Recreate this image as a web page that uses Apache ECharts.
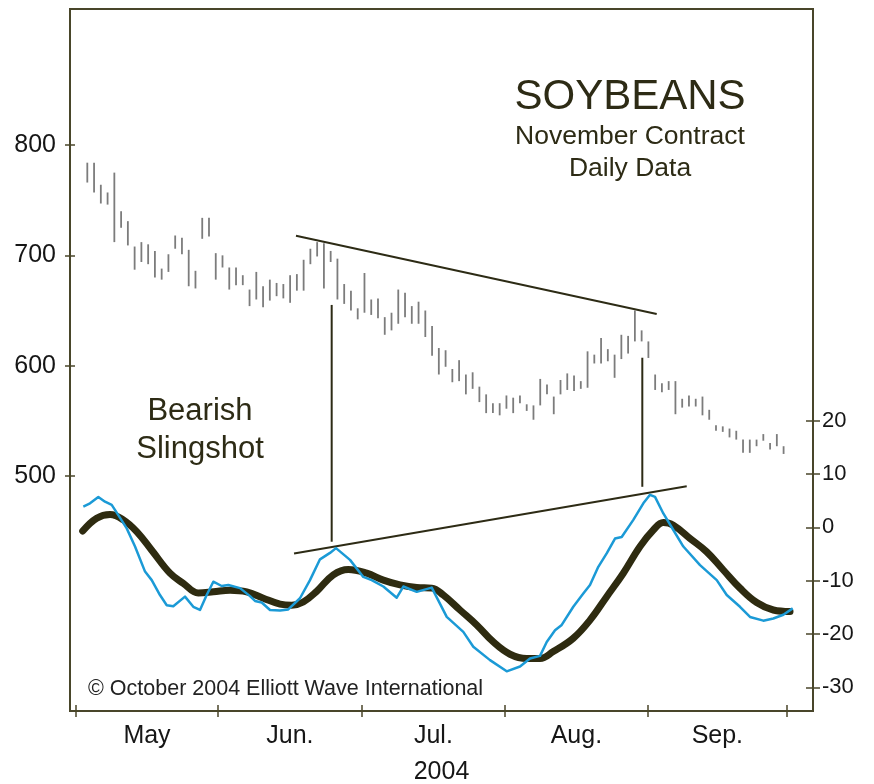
<!DOCTYPE html>
<html>
<head>
<meta charset="utf-8">
<script src="https://cdn.jsdelivr.net/npm/echarts@6/dist/echarts.min.js"></script>
<style>
html, body { margin: 0; padding: 0; background: #fff; }
#main { width: 874px; height: 784px; }
</style>
</head>
<body>
<div id="main"></div>
<script>
// daily high / low, one entry per trading day (index 0 = first bar)
var highs = [784, 784, 764, 757, 775, 740, 731, 708, 712, 710, 704, 688, 701, 718, 716, 705, 686, 734, 734, 702,
    700, 689, 689, 682, 669, 685, 672, 678, 675, 674, 682, 683, 696, 706, 712, 711, 704, 697, 674, 668,
    652, 684, 660, 661, 644, 648, 669, 666, 654, 658, 650, 636, 616, 614, 597, 605, 592, 594, 581, 574,
    566, 566, 573, 571, 573, 565, 564, 588, 583, 572, 587, 593, 591, 586, 613, 610, 625, 615, 610, 628,
    627, 650, 632, 622, 592, 584, 586, 586, 570, 573, 570, 572, 560, 546, 545, 543, 541, 533, 533, 533,
    538, 530, 538, 527];
var lows = [766, 757, 747, 746, 712, 725, 709, 687, 694, 692, 680, 678, 685, 706, 701, 672, 670, 715, 717, 678,
    689, 669, 673, 673, 654, 660, 653, 659, 663, 661, 657, 668, 668, 692, 699, 670, 694, 660, 656, 650,
    642, 648, 646, 643, 628, 632, 638, 644, 638, 638, 626, 609, 592, 599, 585, 586, 574, 579, 567, 557,
    557, 555, 561, 557, 566, 559, 551, 564, 574, 556, 574, 578, 577, 579, 580, 602, 602, 604, 589, 606,
    611, 622, 622, 607, 578, 576, 578, 556, 562, 563, 563, 555, 551, 541, 540, 535, 533, 521, 521, 527,
    532, 524, 527, 520];

// oscillator, smoothed (thick) and raw (blue): day position and value
var smoothDay = [-0.68, 1.39, 3.36, 5.33, 7.31, 9.53, 12.23, 14.2, 16.42, 18.64, 21.11, 23.58, 26.04, 28.51, 30.24,
    31.95, 33.93, 36.39, 38.61, 41.33, 43.79, 46.26, 48.73, 50.95, 52.66, 55.13, 57.6, 60.06, 62.53, 65.0,
    66.97, 68.93, 71.89, 74.36, 76.83, 79.29, 81.76, 83.73, 85.21, 86.69, 89.16, 91.63, 94.08, 96.55, 99.02,
    101.48, 103.95];
var smoothVal = [-0.7, 1.7, 2.4, 1.4, -0.8, -4.3, -8.6, -10.5, -12.3, -12.1, -11.8, -12.1, -13.3, -14.4, -14.6,
    -14.0, -12.0, -8.9, -7.9, -8.6, -9.9, -10.8, -11.3, -11.4, -12.7, -15.5, -18.3, -21.5, -23.8, -24.6,
    -24.6, -23.3, -20.8, -17.4, -13.0, -8.6, -3.6, -0.5, 0.9, 0.4, -2.1, -4.6, -8.0, -11.4, -14.1,
    -15.5, -15.8];
var rawDay = [-0.59, 0.4, 1.63, 2.62, 3.61, 4.59, 5.83, 7.06, 8.54, 9.53, 10.75, 11.75, 12.72, 14.45, 15.68,
    16.67, 17.66, 18.64, 19.88, 20.86, 22.59, 24.07, 24.81, 25.8, 27.03, 28.51, 29.73, 31.46, 32.94, 34.42,
    35.9, 36.79, 38.86, 40.83, 42.07, 43.79, 45.77, 46.75, 48.73, 50.95, 53.17, 55.62, 57.1, 59.57, 62.04,
    64.01, 65.49, 66.97, 67.96, 69.19, 70.18, 71.89, 73.37, 74.36, 75.59, 76.83, 78.06, 79.05, 80.77, 82.25,
    83.24, 83.98, 85.21, 86.69, 88.17, 90.64, 93.11, 94.59, 96.55, 98.03, 100.0, 101.48, 102.96, 104.35];
var rawVal = [3.9, 4.5, 5.7, 4.8, 4.2, 2.3, -0.2, -3.6, -8.3, -9.9, -12.7, -14.6, -14.8, -13.0, -14.9,
    -15.5, -12.7, -10.2, -11.0, -10.8, -11.4, -12.9, -13.8, -14.1, -15.5, -15.6, -15.4, -13.3, -9.9, -6.0,
    -4.8, -3.9, -6.1, -9.3, -9.9, -11.1, -13.2, -11.1, -12.1, -11.3, -16.8, -19.6, -22.4, -24.9, -27.0,
    -26.1, -24.6, -24.1, -21.5, -19.3, -18.3, -14.9, -12.4, -10.8, -7.4, -4.9, -2.1, -1.8, 1.4, 4.5,
    6.1, 5.7, 2.6, -0.5, -3.6, -7.1, -9.9, -12.7, -14.9, -16.8, -17.5, -17.1, -16.4, -15.2];

// hand drawn annotation lines [day, value]
var priceTrend = [[30.87, 717.8], [84.23, 646.8]];
var oscTrend = [[30.58, -4.9], [88.67, 7.7]];
var drop1 = [[36.15, 41.7], [36.15, -2.7]];
var drop2 = [[82.1, 31.8], [82.1, 7.6]];

var monthEdges = [-1.67, 19.33, 40.6, 61.8, 82.9, 103.5];
var monthNames = ['May', 'Jun.', 'Jul.', 'Aug.', 'Sep.'];
var priceTicks = [500, 600, 700, 800];
var oscTicks = [-30, -20, -10, 0, 10, 20];

var monthMid = [];
for (var m = 0; m < monthNames.length; m++) {
    monthMid.push((monthEdges[m] + monthEdges[m + 1]) / 2);
}
var barData = highs.map(function (h, i) { return [i, lows[i], h]; });
var smoothData = smoothDay.map(function (d, i) { return [d, smoothVal[i]]; });
var rawData = rawDay.map(function (d, i) { return [d, rawVal[i]]; });

var axisColor = '#49462a';
var inkColor = '#2d2b15';
var labelColor = '#161616';
var font = '"Liberation Sans", Arial, sans-serif';
var xMin = -2.56, xMax = 107.35;
var pMin = 287, pMax = 923.3;
var oMin = -34.44, oMax = 97.19;

function tickAxis(base, inside, len) {
    base.axisTick = {show: true, inside: inside, length: len, customValues: base._ticks,
        lineStyle: {color: axisColor, width: 1.5}};
    delete base._ticks;
    return base;
}

var chart = echarts.init(document.getElementById('main'));
chart.setOption({
    animation: false,
    grid: {left: 70, right: 61, top: 9, bottom: 73, show: true, borderColor: axisColor, borderWidth: 2,
        containLabel: false, outerBoundsMode: 'none'},
    xAxis: [
        tickAxis({
            type: 'value', position: 'bottom', min: xMin, max: xMax, _ticks: monthEdges,
            splitLine: {show: false},
            axisLine: {onZero: false, lineStyle: {color: axisColor, width: 2}},
            axisLabel: {
                customValues: monthMid, color: labelColor, fontSize: 25, fontFamily: font, margin: 13,
                formatter: function (v) {
                    for (var j = 0; j < monthMid.length; j++) {
                        if (Math.abs(v - monthMid[j]) < 1e-6) return monthNames[j];
                    }
                    return '';
                }
            },
            name: '2004', nameLocation: 'middle', nameGap: 49,
            nameTextStyle: {color: labelColor, fontSize: 25, fontFamily: font}
        }, false, 6),
        tickAxis({
            type: 'value', position: 'bottom', min: xMin, max: xMax, _ticks: monthEdges,
            splitLine: {show: false}, axisLine: {show: false, onZero: false}, axisLabel: {show: false}
        }, true, 6)
    ],
    yAxis: [
        tickAxis({
            type: 'value', position: 'left', min: pMin, max: pMax, _ticks: priceTicks,
            splitLine: {show: false},
            axisLine: {show: true, onZero: false, lineStyle: {color: axisColor, width: 2}},
            axisLabel: {customValues: priceTicks, color: labelColor, fontSize: 25, fontFamily: font, margin: 14}
        }, false, 5),
        tickAxis({
            type: 'value', position: 'left', min: pMin, max: pMax, _ticks: priceTicks,
            splitLine: {show: false}, axisLine: {show: false, onZero: false}, axisLabel: {show: false}
        }, true, 5),
        tickAxis({
            type: 'value', position: 'right', min: oMin, max: oMax, _ticks: oscTicks,
            splitLine: {show: false},
            axisLine: {show: true, onZero: false, lineStyle: {color: axisColor, width: 2}},
            axisLabel: {customValues: oscTicks, color: labelColor, fontSize: 22, fontFamily: font, margin: 9}
        }, false, 7),
        tickAxis({
            type: 'value', position: 'right', min: oMin, max: oMax, _ticks: oscTicks,
            splitLine: {show: false}, axisLine: {show: false, onZero: false}, axisLabel: {show: false}
        }, true, 7)
    ],
    graphic: [
        {type: 'text', x: 630, y: 97, style: {text: 'SOYBEANS', font: '42px ' + font, fill: inkColor,
            align: 'center', verticalAlign: 'middle', textAlign: 'center', textVerticalAlign: 'middle'}},
        {type: 'text', x: 630, y: 137, style: {text: 'November Contract', font: '26.5px ' + font, fill: inkColor,
            align: 'center', verticalAlign: 'middle', textAlign: 'center', textVerticalAlign: 'middle'}},
        {type: 'text', x: 630, y: 169, style: {text: 'Daily Data', font: '26.5px ' + font, fill: inkColor,
            align: 'center', verticalAlign: 'middle', textAlign: 'center', textVerticalAlign: 'middle'}},
        {type: 'text', x: 200, y: 411, style: {text: 'Bearish', font: '31px ' + font, fill: inkColor,
            align: 'center', verticalAlign: 'middle', textAlign: 'center', textVerticalAlign: 'middle'}},
        {type: 'text', x: 200, y: 449, style: {text: 'Slingshot', font: '31px ' + font, fill: inkColor,
            align: 'center', verticalAlign: 'middle', textAlign: 'center', textVerticalAlign: 'middle'}},
        {type: 'text', x: 88, y: 689, style: {text: '\u00a9 October 2004 Elliott Wave International',
            font: '21.5px ' + font, fill: '#222', align: 'left', verticalAlign: 'middle',
            textAlign: 'left', textVerticalAlign: 'middle'}}
    ],
    series: [
        {
            type: 'custom', xAxisIndex: 0, yAxisIndex: 0, data: barData, encode: {x: 0, y: [1, 2]},
            renderItem: function (params, api) {
                var lo = api.coord([api.value(0), api.value(1)]);
                var hi = api.coord([api.value(0), api.value(2)]);
                return {type: 'line', shape: {x1: lo[0], y1: lo[1], x2: hi[0], y2: hi[1]},
                    style: {stroke: '#7c7c7c', lineWidth: 1.8}};
            }
        },
        {type: 'line', xAxisIndex: 0, yAxisIndex: 0, data: priceTrend, symbol: 'none',
            lineStyle: {color: inkColor, width: 2}},
        {type: 'line', xAxisIndex: 0, yAxisIndex: 2, data: oscTrend, symbol: 'none',
            lineStyle: {color: inkColor, width: 2}},
        {type: 'line', xAxisIndex: 0, yAxisIndex: 2, data: drop1, symbol: 'none',
            lineStyle: {color: inkColor, width: 2}},
        {type: 'line', xAxisIndex: 0, yAxisIndex: 2, data: drop2, symbol: 'none',
            lineStyle: {color: inkColor, width: 2}},
        {type: 'line', xAxisIndex: 0, yAxisIndex: 2, data: smoothData, symbol: 'none', smooth: 0.4,
            lineStyle: {color: '#2e2b10', width: 7, cap: 'round', join: 'round'}},
        {type: 'line', xAxisIndex: 0, yAxisIndex: 2, data: rawData, symbol: 'none',
            lineStyle: {color: '#1b9ad6', width: 2.5, join: 'round'}}
    ]
});
window.addEventListener('resize', function () {
    chart.resize();
});
</script>
</body>
</html>
